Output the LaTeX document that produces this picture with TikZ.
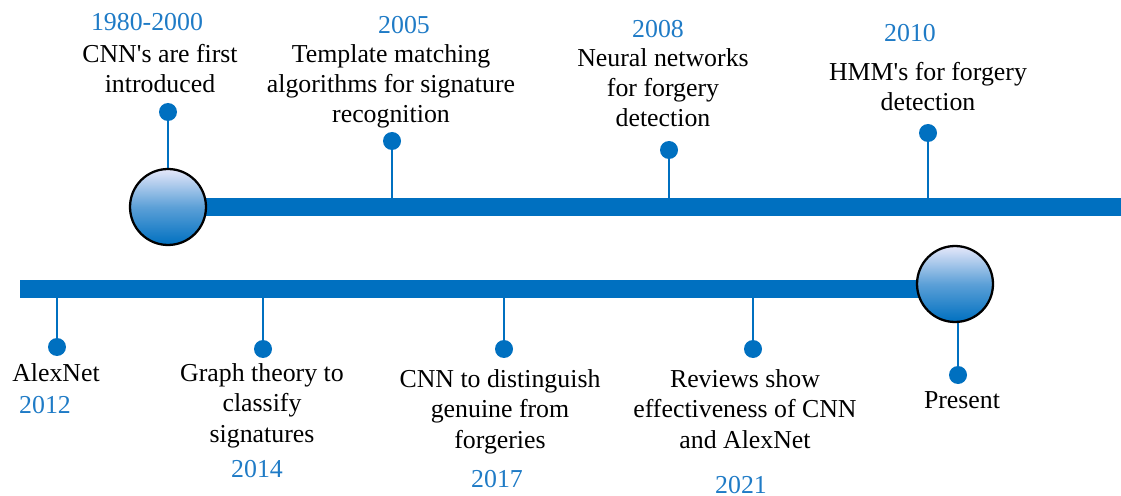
\documentclass[tikz,border=0pt]{standalone}
\usepackage{fontspec}
\newfontfamily\tlfont{Liberation Serif}
\usetikzlibrary{backgrounds}
\definecolor{tlblue}{HTML}{0070C0}
\definecolor{tlyear}{HTML}{1F7BC6}
\definecolor{tllight}{HTML}{E6E8FA}
\tikzset{
  bar/.style  ={line width=10.2pt, draw=tlblue},
  era/.style  ={circle, draw=black, line width=1.3pt, minimum size=1.52cm, inner sep=0pt,
                top color=tllight, bottom color=tlblue, middle color=tlblue!60!tllight},
  pin/.style  ={circle, fill=tlblue, minimum size=0.36cm, inner sep=0pt},
  stem/.style ={draw=tlblue, line width=1.1pt},
  evt/.style  ={anchor=base, align=center, inner sep=0pt,
                font=\tlfont\fontsize{14.7}{17.3}\selectfont},
  yr/.style   ={evt, text=tlyear}
}
\begin{document}
\begin{tikzpicture}[x=0.02cm, y=-0.02cm]
  \useasboundingbox (0,0) rectangle (1121,496);
  \node[era] (start) at (168,207) {};
  \node[era] (now) at (955,284) {};
  \coordinate (topend) at (1121,207);
  \coordinate (botend) at (20,289);
  \node[pin] (p1) at (168,112) {};
  \node[pin] (p2) at (392,141) {};
  \node[pin] (p3) at (669,150) {};
  \node[pin] (p4) at (928,133) {};
  \node[pin] (q1) at (57,347) {};
  \node[pin] (q2) at (263,349) {};
  \node[pin] (q3) at (504,349) {};
  \node[pin] (q4) at (753,349) {};
  \node[pin] (q5) at (958,375) {};
  \begin{scope}[on background layer]
    \draw[bar] (start.center) -- (topend);
    \draw[bar] (botend) -- (botend -| now.center);
    \draw[stem] (p1) -- (start);
    \draw[stem] (p2) -- (p2 |- topend);
    \draw[stem] (p3) -- (p3 |- topend);
    \draw[stem] (p4) -- (p4 |- topend);
    \draw[stem] (q1) -- (q1 |- botend);
    \draw[stem] (q2) -- (q2 |- botend);
    \draw[stem] (q3) -- (q3 |- botend);
    \draw[stem] (q4) -- (q4 |- botend);
    \draw[stem] (q5) -- (q5 |- now.center);
  \end{scope}
  \node[yr]  (y1) at (147,31)  {1980-2000};
  \node[evt] (t1) at (160,93)  {CNN's are first\\introduced};
  \node[yr]  (y2) at (404,34)  {2005};
  \node[evt] (t2) at (391,123) {Template matching\\algorithms for signature\\recognition};
  \node[yr]  (y3) at (658,38)  {2008};
  \node[evt] (t3) at (663,127) {Neural networks\\for forgery\\detection};
  \node[yr]  (y4) at (910,42)  {2010};
  \node[evt] (t4) at (928,111) {HMM's for forgery\\detection};
  \node[evt] (t5) at (56,381)  {AlexNet};
  \node[yr]  (y5) at (45,413)  {2012};
  \node[evt] (t6) at (262,442) {Graph theory to\\classify\\signatures};
  \node[yr]  (y6) at (257,477) {2014};
  \node[evt] (t7) at (500,448) {CNN to distinguish\\genuine from\\forgeries};
  \node[yr]  (y7) at (497,487) {2017};
  \node[evt] (t8) at (745,448) {Reviews show\\effectiveness of CNN\\and AlexNet};
  \node[yr]  (y8) at (741,493) {2021};
  \node[evt] (t9) at (962,408) {Present};
\end{tikzpicture}
\end{document}
